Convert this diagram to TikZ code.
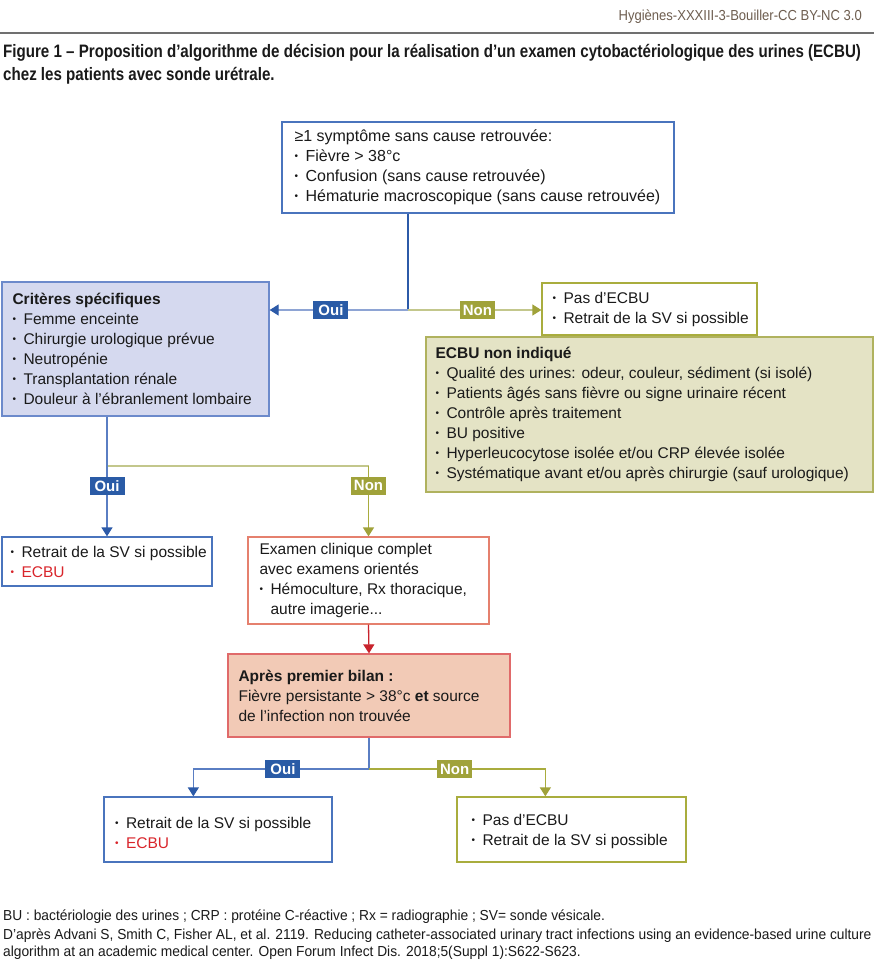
\documentclass[tikz,border=0pt]{standalone}
\usepackage{fontspec}
\setmainfont{Liberation Sans}
\newfontfamily\titlefont[FakeStretch=0.84]{Liberation Sans}
\newfontfamily\hdrfont[FakeStretch=0.90]{Liberation Sans}
\newfontfamily\footfont[FakeStretch=0.95]{Liberation Sans}
\usetikzlibrary{arrows.meta}
\definecolor{txt}{HTML}{1A1A1A}
\definecolor{hdr}{HTML}{6E5E50}
\definecolor{rule}{HTML}{707070}
\definecolor{blueD}{HTML}{2C5AA8}
\definecolor{blueM}{HTML}{5A7EC3}
\definecolor{blueL}{HTML}{8EA4D4}
\definecolor{blueLbl}{HTML}{2A5BA6}
\definecolor{greenL}{HTML}{C3C78C}
\definecolor{greenM}{HTML}{A9AC3E}
\definecolor{greenLbl}{HTML}{A0A23A}
\definecolor{redL}{HTML}{C8232C}
\definecolor{critFill}{HTML}{D5D9EF}
\definecolor{critDraw}{HTML}{6C8ACB}
\definecolor{boxBlue}{HTML}{4A74BD}
\definecolor{boxGreen}{HTML}{A9AD3E}
\definecolor{nonFill}{HTML}{E4E3C5}
\definecolor{nonDraw}{HTML}{B0B25E}
\definecolor{examDraw}{HTML}{E5806E}
\definecolor{apresFill}{HTML}{F2CAB6}
\definecolor{apresDraw}{HTML}{E06A6A}
\definecolor{ecbuRed}{HTML}{D9252B}
\newcommand\bi{\makebox[11pt][l]{\raisebox{2pt}{\fontsize{10}{10}\selectfont •}}}
\begin{document}
\begin{tikzpicture}[x=1pt,y=-1pt,
  box/.style={draw, line width=1.3pt, inner sep=0pt},
  txtn/.style={anchor=west, align=left, inner sep=0pt, text=txt,
    font=\fontsize{15.5}{20}\selectfont},
  lblB/.style={fill=blueLbl, text=white, font=\bfseries\fontsize{15}{15}\selectfont,
    inner xsep=2pt, inner ysep=0pt, minimum height=18pt, minimum width=35pt, text depth=0pt},
  lblG/.style={lblB, fill=greenLbl},
  conn/.style={line width=1.3pt},
  tipB/.style={-{Triangle[width=11pt,length=9pt,color=blueD]}},
  tipG/.style={-{Triangle[width=11pt,length=9pt,color=greenLbl]}},
  tipR/.style={-{Triangle[width=11pt,length=9pt,color=redL]}}
]
\useasboundingbox (0,0) rectangle (874,964);
\fill[white] (0,0) rectangle (874,964);

% header
\node[anchor=east, inner sep=0pt, text=hdr, font=\hdrfont\fontsize{14.5}{16}\selectfont] (hdr) at (862,17) {Hygiènes-XXXIII-3-Bouiller-CC BY-NC 3.0};
\draw[rule, line width=2pt] (0,33) -- (874,33);

% title
\node[anchor=west, inner sep=0pt, text=txt, font=\titlefont\bfseries\fontsize{18}{20}\selectfont] (t1) at (3,53) {Figure 1 – Proposition d’algorithme de décision pour la réalisation d’un examen cytobactériologique des urines (ECBU)};
\node[anchor=west, inner sep=0pt, text=txt, font=\titlefont\bfseries\fontsize{18}{20}\selectfont] (t2) at (3,76) {chez les patients avec sonde urétrale.};

% boxes
\node[box, draw=boxBlue, minimum width=392pt, minimum height=91pt] (top) at (478,167.5) {};
\node[txtn, font=\fontsize{16}{20}\selectfont] (topT) at ([xshift=13pt]top.west)
 {≥1 symptôme sans cause retrouvée:\\
  \bi Fièvre > 38°c\\
  \bi Confusion (sans cause retrouvée)\\
  \bi Hématurie macroscopique (sans cause retrouvée)};

\node[box, draw=critDraw, fill=critFill, minimum width=267pt, minimum height=134pt] (crit) at (135.5,349) {};
\node[txtn] (critT) at ([xshift=11pt]crit.west)
 {\textbf{Critères spécifiques}\\
  \bi Femme enceinte\\
  \bi Chirurgie urologique prévue\\
  \bi Neutropénie\\
  \bi Transplantation rénale\\
  \bi Douleur à l’ébranlement lombaire};

\node[box, draw=boxGreen, minimum width=215pt, minimum height=52pt] (pas) at (649.5,309) {};
\node[txtn] (pasT) at ([xshift=11pt]pas.west)
 {\bi Pas d’ECBU\\
  \bi Retrait de la SV si possible};

\node[box, draw=nonDraw, fill=nonFill, minimum width=447pt, minimum height=155pt] (nonind) at (649.5,414.5) {};
\node[txtn] (nonT) at ([xshift=10pt]nonind.west)
 {\textbf{ECBU non indiqué}\\
  \bi Qualité des urines: odeur, couleur, sédiment (si isolé)\\
  \bi Patients âgés sans fièvre ou signe urinaire récent\\
  \bi Contrôle après traitement\\
  \bi BU positive\\
  \bi Hyperleucocytose isolée et/ou CRP élevée isolée\\
  \bi Systématique avant et/ou après chirurgie (sauf urologique)};

\node[box, draw=boxBlue, minimum width=210pt, minimum height=49pt] (ecbu1) at (107,561.5) {};
\node[txtn] (ecbu1T) at ([xshift=9pt]ecbu1.west)
 {\bi Retrait de la SV si possible\\
  {\color{ecbuRed}\bi ECBU}};

\node[box, draw=examDraw, minimum width=241pt, minimum height=87pt] (exam) at (368.5,580.5) {};
\node[txtn] (examT) at ([xshift=12pt]exam.west)
 {Examen clinique complet\\
  avec examens orientés\\
  \bi Hémoculture, Rx thoracique,\\
  \hspace*{11pt}autre imagerie...};

\node[box, draw=apresDraw, fill=apresFill, minimum width=282pt, minimum height=83pt] (apres) at (369,695.5) {};
\node[txtn] (apresT) at ([xshift=11pt]apres.west)
 {\textbf{Après premier bilan :}\\
  Fièvre persistante > 38°c \textbf{et} source\\
  de l’infection non trouvée};

\node[box, draw=boxBlue, minimum width=228pt, minimum height=65pt] (bl) at (218,829.5) {};
\node[txtn] (blT) at ([xshift=11.5pt,yshift=-3pt]bl.west)
 {\bi Retrait de la SV si possible\\
  {\color{ecbuRed}\bi ECBU}};

\node[box, draw=boxGreen, minimum width=229pt, minimum height=65pt] (br) at (571.5,829.5) {};
\node[txtn] (brT) at ([xshift=15pt,yshift=-1.5pt]br.west)
 {\bi Pas d’ECBU\\
  \bi Retrait de la SV si possible};

% connectors
\coordinate (s1) at (408,310);
\draw[conn, blueD] (top.south -| s1) -- (s1);
\draw[conn, blueL, tipB] (s1) -- (crit.east |- s1) node[lblB, pos=0.557] (oui1) {Oui};
\draw[conn, greenL, tipG] (s1) -- (pas.west |- s1) node[lblG, pos=0.52] (non1) {Non};

\coordinate (s2) at (107,466);
\draw[conn, greenL] (s2) -- (s2 -| exam.north);
\draw[conn, greenM, tipG] (s2 -| exam.north) -- (exam.north) node[lblG, pos=0.28] (non2) {Non};
\draw[conn, blueM] (crit.south -| s2) -- (s2);
\draw[conn, blueM, tipB] (s2) -- (ecbu1.north) node[lblB, pos=0.28] (oui2) {Oui};

\draw[conn, redL, tipR] (exam.south) -- (apres.north);

\coordinate (s3) at (369,769);
\draw[conn, blueM] (apres.south) -- (s3);
\draw[conn, blueM, tipB] (s3) -| ([xshift=90pt]bl.north west) node[lblB, pos=0.245] (oui3) {Oui};
\draw[conn, greenM, tipG] (s3) -| ([xshift=89pt]br.north west) node[lblG, pos=0.243] (non3) {Non};

% footer
\node[anchor=west, inner sep=0pt, text=txt, font=\footfont\fontsize{14.5}{16}\selectfont] (f1) at (3,917) {BU : bactériologie des urines ; CRP : protéine C-réactive ; Rx = radiographie ; SV= sonde vésicale.};
\node[anchor=west, inner sep=0pt, text=txt, font=\footfont\fontsize{14.5}{16}\selectfont] (f2) at (3,936) {D’après Advani S, Smith C, Fisher AL, et al. 2119. Reducing catheter-associated urinary tract infections using an evidence-based urine culture};
\node[anchor=west, inner sep=0pt, text=txt, font=\footfont\fontsize{14.5}{16}\selectfont] (f3) at (3,953) {algorithm at an academic medical center. Open Forum Infect Dis. 2018;5(Suppl 1):S622-S623.};
\end{tikzpicture}
\end{document}
